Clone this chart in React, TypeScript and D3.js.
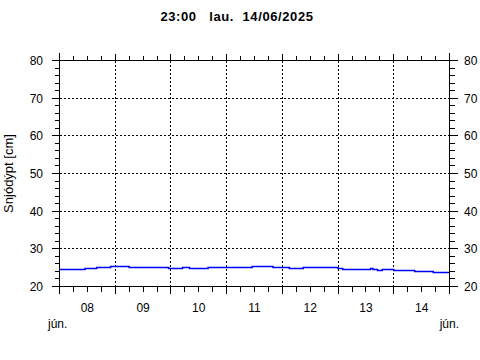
import React from "react";
import * as d3 from "d3";

const titleTime = "23:00";
const titleDay = "lau.";
const titleDate = "14/06/2025";
const yLabel = "Snjódýpt [cm]";
const monthLabel = "jún.";

const domainStart = "2025-06-08 00:00";
const domainEnd = "2025-06-15 00:00";

const times = [
  "2025-06-08 00:00", "2025-06-08 11:00", "2025-06-08 16:00", "2025-06-08 22:00",
  "2025-06-09 06:00", "2025-06-09 23:00", "2025-06-10 05:00", "2025-06-10 08:00",
  "2025-06-10 16:00", "2025-06-11 11:00", "2025-06-11 20:00", "2025-06-12 03:00",
  "2025-06-12 09:00", "2025-06-13 00:00", "2025-06-13 02:00", "2025-06-13 14:00",
  "2025-06-13 15:00", "2025-06-13 17:00", "2025-06-13 19:00", "2025-06-14 00:00",
  "2025-06-14 09:00", "2025-06-14 17:00", "2025-06-15 00:00",
];
const depth = [
  24.6, 24.8, 25.1, 25.4,
  25.1, 24.8, 25.1, 24.8,
  25.1, 25.4, 25.1, 24.8,
  25.1, 24.8, 24.6, 24.8,
  24.6, 24.3, 24.6, 24.3,
  24.0, 23.8, 23.8,
];

const yMin = 20;
const yMax = 80;
const yMajorStep = 10;
const yMinorStep = 2;

const parse = d3.utcParse("%Y-%m-%d %H:%M");
const FONT = "Arial, 'Liberation Sans', Helvetica, sans-serif";

export default function App() {
  const W = 480, H = 360;
  const L = 59.5, R = 449.5, T = 60.5, B = 286.5;

  const x = d3.scaleUtc().domain([parse(domainStart)!, parse(domainEnd)!]).range([L, R]);
  const y = d3.scaleLinear().domain([yMin, yMax]).range([B, T]);

  const data = times.map((t, i) => ({ t: parse(t)!, v: depth[i] }));
  const line = d3
    .line<{ t: Date; v: number }>()
    .x((d) => x(d.t))
    .y((d) => Math.round(y(d.v)) + 0.5)
    .curve(d3.curveStepAfter);

  const yTicks = d3.range(yMin, yMax + 0.001, yMinorStep);
  const yMajors = d3.range(yMin, yMax + 0.001, yMajorStep);
  const xTicks = x.ticks(d3.utcHour.every(6)!);
  const days = d3.utcDay.range(x.domain()[0], x.domain()[1]);
  const fmtDay = d3.utcFormat("%d");

  const px = (v: number) => Math.round(v - 0.5) + 0.5;

  return (
    <svg
      width={W}
      height={H}
      style={{ position: "absolute", left: 0, top: 0, background: "#fff" }}
      fontFamily={FONT}
    >
      <rect x={0} y={0} width={W} height={H} fill="#fff" />
      {/* title */}
      <text
        x={237}
        y={21}
        textAnchor="middle"
        fontSize={13}
        fontWeight="bold"
        letterSpacing={0.6}
        style={{ whiteSpace: "pre" }}
      >
        {`${titleTime}   ${titleDay}  ${titleDate}`}
      </text>

      {/* grid */}
      <g stroke="#000" strokeWidth={1} strokeDasharray="2,2" shapeRendering="crispEdges">
        {yMajors
          .filter((v) => v > yMin && v < yMax)
          .map((v) => (
            <line key={"gy" + v} x1={L} x2={R} y1={px(y(v))} y2={px(y(v))} />
          ))}
        {days.slice(1).map((d) => (
          <line key={"gx" + d.getTime()} x1={px(x(d))} x2={px(x(d))} y1={T} y2={B} />
        ))}
      </g>

      {/* data line */}
      <path d={line(data) || ""} fill="none" stroke="#0000ff" strokeWidth={1.5} />

      {/* frame */}
      <g stroke="#000" strokeWidth={1} shapeRendering="crispEdges">
        <line x1={L} x2={R} y1={T} y2={T} />
        <line x1={L} x2={R} y1={B} y2={B} />
        <line x1={L} x2={L} y1={T - 8} y2={B + 7} />
        <line x1={R} x2={R} y1={T - 8} y2={B + 7} />
        {yTicks.map((v) => {
          const major = v % yMajorStep === 0;
          const yy = px(y(v));
          return (
            <g key={"yt" + v}>
              <line x1={L - (major ? 8 : 5)} x2={L} y1={yy} y2={yy} />
              <line x1={R} x2={R + (major ? 8 : 5)} y1={yy} y2={yy} />
            </g>
          );
        })}
        {xTicks.map((t) => {
          const major = t.getUTCHours() === 0;
          const xx = px(x(t));
          return (
            <g key={"xt" + t.getTime()}>
              <line x1={xx} x2={xx} y1={B} y2={B + (major ? 7 : 5)} />
              <line x1={xx} x2={xx} y1={T} y2={T - (major ? 7 : 5)} />
            </g>
          );
        })}
      </g>

      {/* y tick labels */}
      <g fontSize={12} fill="#000">
        {yMajors.map((v) => (
          <g key={"yl" + v}>
            <text x={43} y={y(v) + 4.5} textAnchor="end">
              {v}
            </text>
            <text x={464} y={y(v) + 4.5} textAnchor="start">
              {v}
            </text>
          </g>
        ))}
      </g>

      {/* x labels */}
      <g fontSize={12} fill="#000">
        {days.map((d) => (
          <text key={"xl" + d.getTime()} x={x(d3.utcHour.offset(d, 12))} y={312} textAnchor="middle">
            {fmtDay(d)}
          </text>
        ))}
        <text x={48} y={328}>{monthLabel}</text>
        <text x={459} y={328} textAnchor="end">{monthLabel}</text>
      </g>

      {/* y axis label */}
      <text
        transform={`translate(13,${(T + B) / 2}) rotate(-90)`}
        textAnchor="middle"
        fontSize={13}
        fill="#000"
      >
        {yLabel}
      </text>
    </svg>
  );
}
